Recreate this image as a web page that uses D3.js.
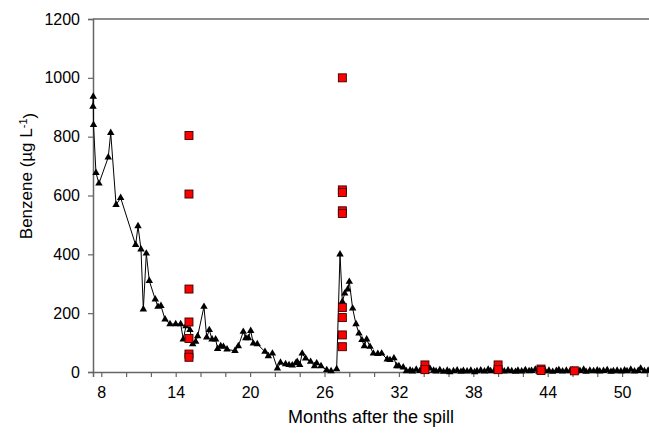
<!DOCTYPE html>
<html>
<head>
<meta charset="utf-8">
<script src="https://cdn.jsdelivr.net/npm/d3@7"></script>
<style>
  body { margin: 0; background: #fff; }
  svg text { font-family: "Liberation Sans", Arial, sans-serif; fill: #000; }
</style>
</head>
<body>
<svg id="chart"></svg>
<script>
// black series (triangles + line)
const months = [7.33, 7.35, 7.37, 7.57, 7.81, 8.56, 8.76, 9.19, 9.56, 10.77, 10.96, 11.2, 11.39, 11.63, 11.87,
  12.35, 12.57, 12.81, 13.14, 13.54, 14.0, 14.4, 14.61, 14.83, 15.15, 15.37, 15.61, 15.77, 16.28, 16.5, 16.71,
  16.93, 17.22, 17.38, 17.63, 17.85, 18.14, 18.78, 19.05, 19.45, 19.65, 19.86, 20.05, 20.26, 20.58, 21.2, 21.47,
  21.8, 22.2, 22.45, 22.86, 23.14, 23.4, 23.68, 23.8, 24.0, 24.2, 24.48, 24.88, 25.2, 25.37, 25.72, 26.18, 26.53,
  26.98, 27.25, 27.44, 27.63, 27.87, 28.0, 28.27, 28.54, 28.78, 29.02, 29.21, 29.4, 29.67, 29.94, 30.3, 30.61,
  31.06, 31.28, 31.6, 31.82, 32.0, 32.35,
  32.6, 32.9, 33.1, 33.4, 33.7, 34.0, 34.2, 34.5, 34.8, 35.0, 35.3, 35.6, 35.9, 36.1, 36.4, 36.7, 37.0, 37.2,
  37.5, 37.8, 38.1, 38.3, 38.6, 38.9, 39.2, 39.4, 39.7, 40.0, 40.3, 40.5, 40.8, 41.1, 41.4, 41.6, 41.9, 42.2,
  42.5, 42.7, 43.0, 43.3, 43.6, 43.8, 44.1, 44.4, 44.7, 44.9, 45.2, 45.5, 45.8, 46.0, 46.3, 46.6, 46.9, 47.1,
  47.4, 47.7, 48.0, 48.2, 48.5, 48.8, 49.1, 49.3, 49.6, 49.9, 50.2, 50.4, 50.7, 51.0, 51.3, 51.5, 51.8, 52.1];
const benzene = [902, 936, 840, 677, 641, 730, 813, 568, 592, 432, 496, 417, 213, 403, 310,
  247, 222, 225, 179, 163, 163, 163, 111, 156, 143, 95, 103, 122, 222, 118, 143,
  111, 111, 79, 88, 86, 77, 72, 88, 137, 115, 115, 140, 97, 95, 69, 54,
  63, 12, 32, 27, 24, 23, 30, 35, 24, 63, 46, 35, 20, 30, 20, 7, 3,
  10, 400, 239, 267, 281, 307, 216, 163, 131, 109, 88, 111, 86, 63, 62, 63,
  43, 41, 47, 20, 20, 16,
  3, 6, 2, 8, 4, 10, 3, 12, 5, 2, 7, 1, 5, 0, 3, 6, 1, 4,
  2, 5, 0, 3, 6, 2, 8, 3, 5, 11, 4, 2, 6, 3, 1, 5, 2, 7,
  3, 4, 8, 2, 6, 3, 5, 1, 4, 7, 2, 5, 3, 6, 2, 4, 8, 1,
  5, 3, 6, 2, 4, 7, 1, 3, 5, 2, 6, 3, 8, 2, 4, 12, 3, 5];

// red squares
const sqMonths = [15.07, 15.07, 15.07, 15.07, 15.07, 15.07, 15.07,
  27.44, 27.44, 27.44, 27.44, 27.44, 27.44, 27.44, 27.44, 27.44,
  34.1, 34.1, 40.0, 40.0, 43.46, 43.46, 46.15];
const sqValues = [804, 605, 282, 170, 114, 61, 50,
  1000, 619, 610, 548, 539, 219, 185, 126, 86,
  24, 8, 24, 8, 10, 5, 4];

const xTicks = [8, 10, 12, 14, 16, 18, 20, 22, 24, 26, 28, 30, 32, 34, 36, 38, 40, 42, 44, 46, 48, 50, 52];
const xLabels = [8, 14, 20, 26, 32, 38, 44, 50];
const yTicks = [0, 200, 400, 600, 800, 1000, 1200];

const width = 649, height = 433;
const margin = {top: 19, right: 0, bottom: 61, left: 93};

const svg = d3.select('#chart').attr('width', width).attr('height', height);

const x = d3.scaleLinear().domain([7.33, 52.17]).range([margin.left, width - margin.right]);
const y = d3.scaleLinear().domain([0, 1200]).range([height - margin.bottom, margin.top]);

// top frame line
svg.append('line')
  .attr('x1', margin.left).attr('x2', width)
  .attr('y1', margin.top).attr('y2', margin.top)
  .attr('stroke', '#666').attr('stroke-width', 1.5);

// Y axis
const yAxis = svg.append('g')
  .attr('transform', `translate(${margin.left},0)`)
  .call(d3.axisLeft(y).tickValues(yTicks).tickSize(5).tickPadding(8).tickFormat(d3.format('d')));
yAxis.select('.domain').attr('stroke', '#666').attr('stroke-width', 1.5);
yAxis.selectAll('.tick line').attr('stroke', '#666').attr('stroke-width', 1.2);
yAxis.selectAll('text').style('font-size', '16px').attr('fill', '#000');

// X axis
const xAxis = svg.append('g')
  .attr('transform', `translate(0,${height - margin.bottom})`)
  .call(d3.axisBottom(x).tickValues(xTicks).tickSize(5).tickPadding(10)
    .tickFormat(d => xLabels.includes(d) ? d : ''));
xAxis.select('.domain').attr('stroke', '#666').attr('stroke-width', 1.5);
xAxis.selectAll('.tick line').attr('stroke', '#666').attr('stroke-width', 1.2);
xAxis.selectAll('text').style('font-size', '16px').attr('fill', '#000');

// axis titles
svg.append('text')
  .attr('x', (margin.left + width) / 2).attr('y', 423)
  .attr('text-anchor', 'middle').style('font-size', '18px')
  .text('Months after the spill');

const yTitle = svg.append('text')
  .attr('transform', 'translate(32,176) rotate(-90)')
  .attr('text-anchor', 'middle').style('font-size', '17px');
yTitle.append('tspan').text('Benzene (µg L');
yTitle.append('tspan').attr('dy', '-0.45em').style('font-size', '11px').text('-1');
yTitle.append('tspan').attr('dy', '0.45em').text(')');

// line series
const pts = months.map((m, i) => [m, benzene[i]]);
svg.append('path')
  .datum(pts)
  .attr('fill', 'none').attr('stroke', '#000').attr('stroke-width', 1)
  .attr('d', d3.line().x(d => x(d[0])).y(d => y(d[1])));

svg.append('g').selectAll('path')
  .data(pts).enter()
  .append('path')
  .attr('transform', d => `translate(${x(d[0])},${y(d[1])})`)
  .attr('d', d3.symbol().type(d3.symbolTriangle).size(24))
  .attr('fill', '#000');

// red squares
const sq = sqMonths.map((m, i) => [m, sqValues[i]]);
svg.append('g').selectAll('rect')
  .data(sq).enter()
  .append('rect')
  .attr('x', d => x(d[0]) - 4).attr('y', d => y(d[1]) - 4)
  .attr('width', 8).attr('height', 8)
  .attr('fill', '#ff0000').attr('stroke', '#3a0000').attr('stroke-width', 0.9);
</script>
</body>
</html>
